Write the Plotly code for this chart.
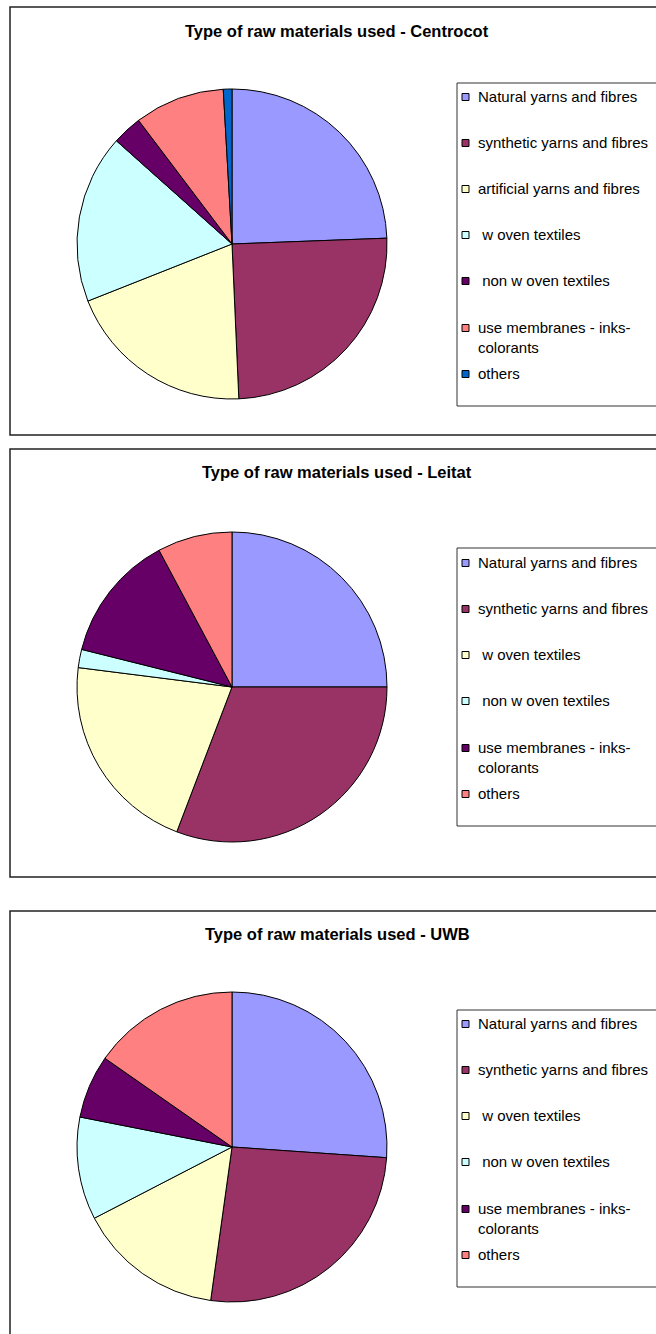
import plotly.graph_objects as go

W, H = 656, 1334

# ---------------- data ----------------
titles = [
    "Type of raw materials used - Centrocot",
    "Type of raw materials used - Leitat",
    "Type of raw materials used - UWB",
]

centrocot_labels = [
    "Natural yarns and fibres",
    "synthetic yarns and fibres",
    "artificial yarns and fibres",
    " w oven textiles",
    " non w oven textiles",
    "use membranes - inks-<br>colorants",
    "others",
]
centrocot_values = [24.4, 24.9, 19.7, 17.6, 3.1, 9.4, 0.9]

leitat_labels = [
    "Natural yarns and fibres",
    "synthetic yarns and fibres",
    " w oven textiles",
    " non w oven textiles",
    "use membranes - inks-<br>colorants",
    "others",
]
leitat_values = [25.0, 30.8, 21.2, 1.9, 13.3, 7.8]

uwb_labels = list(leitat_labels)
uwb_values = [26.1, 26.1, 15.2, 10.7, 6.6, 15.3]

palette = ["#9999FF", "#993366", "#FFFFCC", "#CCFFFF", "#660066", "#FF8080", "#0066CC"]

# ---------------- layout geometry (pixels) ----------------
panels = [
    dict(top=7, bottom=435, title_y=31, cy=244, leg_top=83, leg_bottom=406,
         items=[97, 143, 189, 235, 281, 328, 374]),
    dict(top=449, bottom=877, title_y=472, cy=687, leg_top=548, leg_bottom=826,
         items=[563, 609, 655, 701, 748, 794]),
    dict(top=911, bottom=1345, title_y=934, cy=1147, leg_top=1010, leg_bottom=1287,
         items=[1024, 1070, 1116, 1162, 1209, 1255]),
]
datasets = [
    (centrocot_labels, centrocot_values),
    (leitat_labels, leitat_values),
    (uwb_labels, uwb_values),
]

CX, R = 232, 155
PANEL_L, PANEL_R = 10, 662
LEG_L, LEG_R = 457, 662
FONT = "Liberation Sans, Arial, Helvetica, sans-serif"


def px(x):
    return x / W


def py(y):
    return 1 - y / H


fig = go.Figure()
shapes = []
annotations = []

for p, (labels, values) in zip(panels, datasets):
    n = len(labels)
    cols = palette[:n]
    fig.add_trace(go.Pie(
        labels=labels,
        values=values,
        sort=False,
        direction="clockwise",
        rotation=0,
        textinfo="none",
        hoverinfo="label+percent",
        showlegend=False,
        marker=dict(colors=cols, line=dict(color="#000000", width=1)),
        domain=dict(x=[px(CX - R), px(CX + R)],
                    y=[py(p["cy"] + R), py(p["cy"] - R)]),
    ))

    # panel border
    shapes.append(dict(type="rect", xref="paper", yref="paper",
                       x0=px(PANEL_L), x1=px(PANEL_R),
                       y0=py(p["bottom"]), y1=py(p["top"]),
                       line=dict(color="#222222", width=1.5), layer="below"))
    # legend box
    shapes.append(dict(type="rect", xref="paper", yref="paper",
                       x0=px(LEG_L), x1=px(LEG_R),
                       y0=py(p["leg_bottom"]), y1=py(p["leg_top"]),
                       line=dict(color="#333333", width=1), layer="below"))
    # legend entries
    for lab, col, iy in zip(labels, cols, p["items"]):
        shapes.append(dict(type="rect", xref="paper", yref="paper",
                           x0=px(462), x1=px(469),
                           y0=py(iy + 3.5), y1=py(iy - 3.5),
                           fillcolor=col, line=dict(color="#000000", width=1)))
        annotations.append(dict(text=lab, xref="paper", yref="paper",
                                x=px(477), y=py(iy - 10),
                                xanchor="left", yanchor="top", align="left",
                                showarrow=False, borderpad=0,
                                font=dict(family=FONT, size=15, color="#000000")))

# titles
for t, p in zip(titles, panels):
    annotations.append(dict(text="<b>%s</b>" % t, xref="paper", yref="paper",
                            x=px(337), y=py(p["title_y"]),
                            xanchor="center", yanchor="middle",
                            showarrow=False,
                            font=dict(family=FONT, size=16.5, color="#000000")))

fig.update_layout(
    width=W, height=H,
    margin=dict(l=0, r=0, t=0, b=0),
    paper_bgcolor="#FFFFFF",
    plot_bgcolor="#FFFFFF",
    shapes=shapes,
    annotations=annotations,
    showlegend=False,
    font=dict(family=FONT),
)

fig.write_html(
    "out.html",
    config={"displayModeBar": False},
    post_script="document.body.style.margin='0';document.body.style.overflow='hidden';",
)
